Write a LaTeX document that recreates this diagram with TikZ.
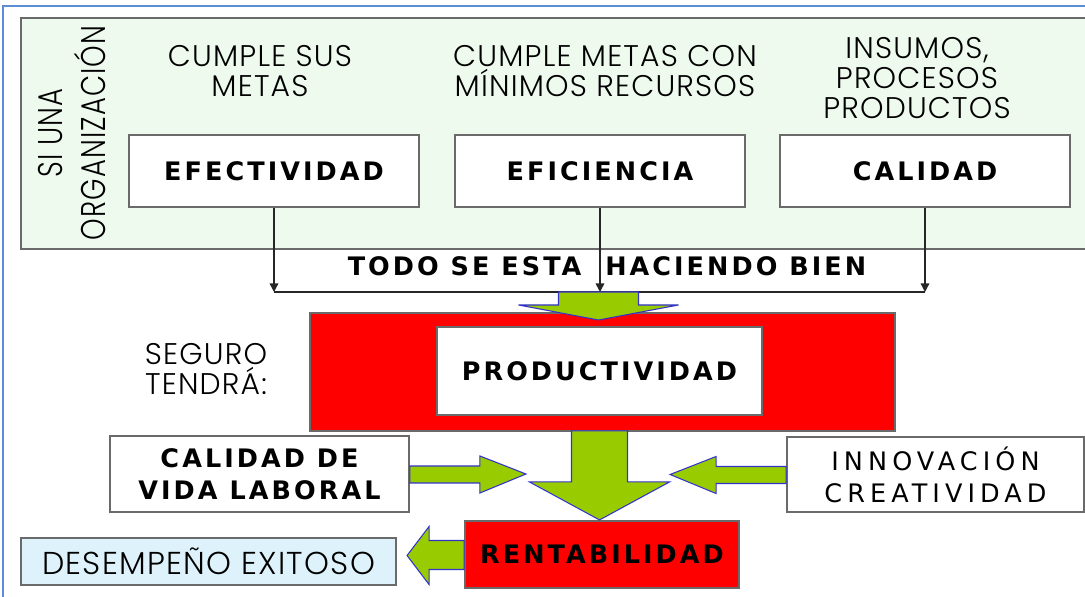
\documentclass[tikz,border=0pt]{standalone}
\usepackage{fontspec}
\setmainfont{DejaVu Sans}
\newfontfamily\thinfont{Poppins Light}[LetterSpace=4]
\newfontfamily\boxfont{DejaVu Sans}[LetterSpace=12]
\newfontfamily\innofont{DejaVu Sans}[LetterSpace=20]
\usetikzlibrary{calc,arrows.meta,shadows}

\definecolor{panelgreen}{HTML}{EFFAEF}
\definecolor{arrowgreen}{HTML}{99CC00}
\definecolor{arrowblue}{HTML}{3333CC}
\definecolor{framegray}{HTML}{6A6A6A}
\definecolor{paleblue}{HTML}{DDF2FA}
\definecolor{frameblue}{HTML}{5B8ED6}

\tikzset{
    box/.style={draw=framegray, line width=1.1pt, fill=white, inner sep=0pt,
        align=center, font=\boxfont\bfseries\fontsize{14.5}{18.2}\selectfont,
        drop shadow={shadow xshift=0.7pt, shadow yshift=-0.7pt, opacity=0.8, fill=black}},
    redbox/.style={box, fill=red},
    lbl/.style={inner sep=0pt, align=center, font=\thinfont\fontsize{17}{17.2}\selectfont},
    fat/.style={fill=arrowgreen, draw=arrowblue, line width=0.6pt, line join=miter},
    bus/.style={line width=0.8pt, draw=black!85},
}

\begin{document}
\begin{tikzpicture}[x=0.02cm, y=-0.02cm]
    \pgfmathsetmacro{\boxw}{290*0.02}
    \pgfmathsetmacro{\boxh}{72*0.02}
    \pgfmathsetmacro{\boxy}{171}
    \useasboundingbox (0,0) rectangle (1085,597);
    % Draw frame and background panel
    \draw[frameblue, line width=1.2pt] (3,597) -- (3,6) -- (1085,6);
    \fill[panelgreen] (21,18) rectangle (1085,249);
    \draw[framegray, line width=1.2pt] (1085,18) -- (21,18) -- (21,249) -- (1085,249);
    \node[lbl, rotate=90, xscale=0.8, font=\thinfont\fontsize{19.5}{24}\selectfont] (org) at (72,133)
        {SI UNA\\ORGANIZACIÓN};

    % Draw the three measures and what each one means
    \foreach \n/\x/\t in {efec/274/EFECTIVIDAD, efic/600/EFICIENCIA, cal/925/CALIDAD} {
        \node[box, minimum width=\boxw cm, minimum height=\boxh cm] (\n) at (\x,\boxy) {\t};
    }
    \node[lbl] (efectxt) at (260,71) {CUMPLE SUS\\METAS};
    \node[lbl] (efictxt) at (605,71) {CUMPLE METAS CON\\MÍNIMOS RECURSOS};
    \node[lbl] (caltxt) at (917,78) {INSUMOS,\\PROCESOS\\PRODUCTOS};

    % Collect them on one line
    \coordinate (bus) at (0,292);
    \foreach \n in {efec,efic,cal} {
        \draw[bus, -{Triangle[length=0.17cm, width=0.17cm]}] (\n.south) -- (\n.south |- bus);
    }
    \draw[bus] (efec.south |- bus) -- (cal.south |- bus);
    \node[inner sep=0pt, font=\boxfont\bfseries\fontsize{14.5}{17}\selectfont] (todo) at (607,266)
        {TODO SE ESTA \ HACIENDO BIEN};

    % Draw red boxes
    \node[redbox, minimum width=11.7cm, minimum height=2.36cm] (prodframe) at (602.5,372) {};
    \node[box, minimum width=6.5cm, minimum height=1.76cm] (prod) at (599.5,371) {PRODUCTIVIDAD};
    \node[redbox, minimum width=5.48cm, minimum height=1.34cm] (rent) at (602,554.5) {RENTABILIDAD};
    \node[lbl] (seguro) at (206,369) {SEGURO\\TENDRÁ:};

    % Draw side boxes
    \node[box, minimum width=5.98cm, minimum height=1.52cm] (vida) at (259.5,474) {CALIDAD DE\\VIDA LABORAL};
    \node[box, minimum width=5.94cm, minimum height=1.5cm,
        font=\innofont\fontsize{14.5}{18.2}\selectfont] (inno) at (935.5,474.5) {INNOVACIÓN\\CREATIVIDAD};
    \node[box, fill=paleblue, minimum width=7.5cm, minimum height=0.94cm,
        font=\thinfont\fontsize{18}{18}\selectfont] (desemp) at (208.5,561.5) {DESEMPEÑO EXITOSO};

    % Draw the fat green arrows
    \coordinate (utop) at (bus -| prod.center);
    \draw[fat] ($(utop)+(-41,0)$) -- ++(80,0) -- ++(0,13) -- ++(40,0)
        -- ($(utop)+(-1,28)$) -- ($(utop)+(-81,13)$) -- ++(40,0) -- cycle;
    \coordinate (dtop) at (prodframe.south -| prod.center);
    \draw[fat] ($(dtop)+(-28,-1)$) -- ++(56,0) -- ++(0,51) -- ++(42,0)
        -- ($(dtop)+(0,88)$) -- ($(dtop)+(-70,50)$) -- ++(42,0) -- cycle;
    \draw[fat] ($(vida.east)+(0,-8)$) -- ++(70,0) -- ++(0,-10) -- ($(vida.east)+(116,0)$)
        -- ($(vida.east)+(70,19)$) -- ++(0,-10) -- ($(vida.east)+(0,9)$) -- cycle;
    \draw[fat] ($(inno.west)+(0,-8)$) -- ++(-70,0) -- ++(0,-10) -- ($(inno.west)+(-116,0)$)
        -- ($(inno.west)+(-70,19)$) -- ++(0,-10) -- ($(inno.west)+(0,9)$) -- cycle;
    \draw[fat] ($(rent.west)+(0,-14)$) -- ++(-35,0) -- ++(0,-14) -- ($(rent.west)+(-57,1)$)
        -- ($(rent.west)+(-35,30)$) -- ++(0,-15) -- ($(rent.west)+(0,15)$) -- cycle;
\end{tikzpicture}
\end{document}
